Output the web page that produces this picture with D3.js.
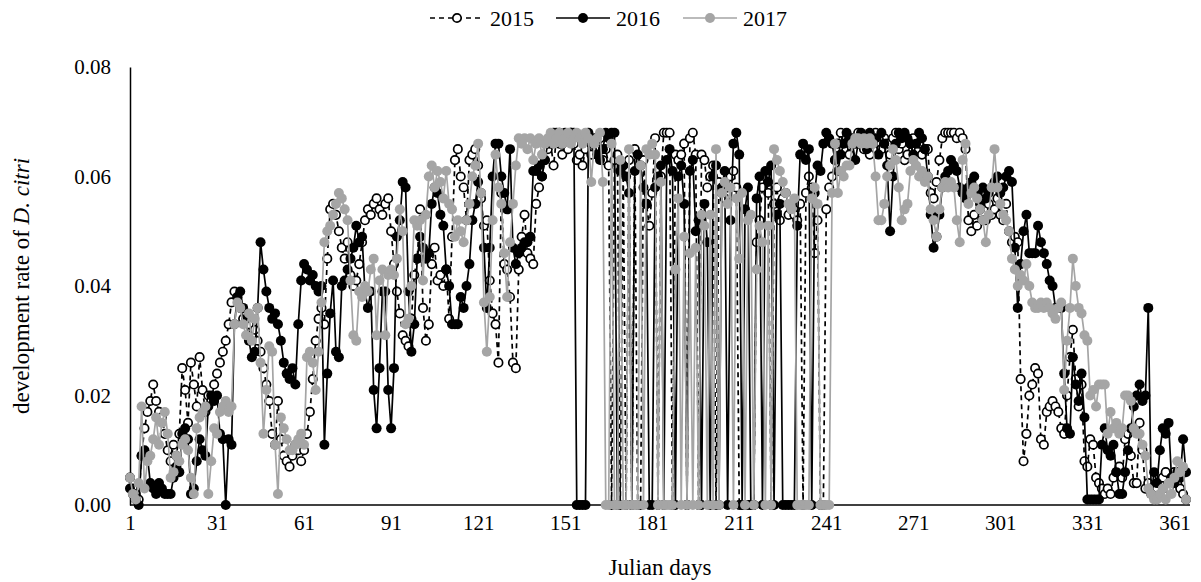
<!DOCTYPE html>
<html>
<head>
<meta charset="utf-8">
<title>Development rate of D. citri</title>
<script src="https://d3js.org/d3.v7.min.js"></script>
<style>
  body { margin: 0; background: #fff; }
  text { font-family: "Liberation Serif", "Times New Roman", serif; fill: #000; }
</style>
</head>
<body>
<div id="chart"></div>
<script>
// daily development rate, values in units of 0.001
const rate2015 = [
  5,3,2,1,9,14,17,19,22,19, 17,16,13,10,8,11,9,13,25,21, 15,26,22,18,27,21,17,20,19,22,
  24,26,28,30,33,37,39,38,36,34, 35,33,31,32,30,28,25,22,19,13, 11,19,12,9,8,7,9,11,10,8,
  10,13,17,23,30,34,36,33,45,54, 55,53,50,47,45,48,42,40,41,44, 48,52,54,53,55,56,54,53,55,56,
  50,44,39,35,31,30,29,34,42,45, 54,36,30,33,44,47,41,42,40,43, 34,49,63,65,60,58,52,63,64,65,
  62,56,51,52,41,35,33,26,57,44, 43,38,26,25,43,49,53,46,45,44, 55,58,60,63,65,66,62,67,66,64,
  67,65,68,66,63,64,62,65,67,64, 66,65,67,63,65,62,0,63,64,0, 62,0,63,0,65,0,0,63,55,51,
  57,67,0,60,68,68,68,0,64,63, 64,66,0,67,68,64,0,64,63,58, 60,62,0,59,57,56,58,60,61,58,
  0,0,0,0,0,0,48,52,58,60, 57,0,55,58,52,56,57,53,54,53, 52,55,0,57,60,58,46,52,0,0,
  54,58,60,63,66,68,65,67,64,67, 66,68,67,65,66,64,67,68,66,65, 67,66,64,67,68,65,66,63,64,66,
  67,65,66,64,65,65,57,56,59,63, 67,68,68,68,68,67,68,67,65,52, 50,53,51,54,52,52,55,53,54,56,
  53,52,55,50,48,49,48,23,8,13, 20,22,25,24,12,11,17,18,19,18, 17,14,13,20,27,32,23,18,22,8,
  7,12,11,5,4,3,2,3,2,5, 6,7,5,12,13,9,4,4,15,10, 3,4,3,2,3,4,5,6,3,5,
  6,4,3,2,1
];
const rate2016 = [
  3,2,1,0,9,10,9,4,3,2, 4,3,2,2,2,5,7,6,13,14, 12,2,3,8,12,10,9,18,20,19,
  20,13,12,0,12,11,33,38,39,36, 34,30,27,28,36,48,43,39,36,34, 35,33,30,26,24,23,25,22,33,41,
  44,43,41,42,40,39,40,11,24,35, 41,28,27,40,41,43,45,47,51,48, 49,39,36,39,21,14,25,39,39,21,
  14,25,49,52,59,58,39,28,33,45, 49,47,45,46,55,58,57,53,51,43, 40,33,33,33,38,36,40,44,52,55,
  59,57,47,36,47,60,66,66,60,57, 54,65,47,44,46,47,48,48,49,61, 61,62,60,63,66,67,68,68,68,66,
  68,67,68,68,0,0,0,0,68,66, 67,64,63,65,68,67,68,68,0,61, 62,60,57,0,61,64,62,58,55,0,
  0,58,60,62,0,63,65,61,0,60, 62,55,0,61,63,50,52,0,55,48, 0,60,62,0,58,61,0,52,66,68,
  64,0,54,58,0,0,56,60,0,61, 59,62,0,53,55,0,0,0,0,0, 51,64,66,63,65,0,57,62,61,66,
  68,67,66,63,61,64,66,68,67,66, 63,66,68,67,65,68,66,67,64,68, 66,62,50,60,66,68,67,68,67,66,
  64,66,68,67,65,60,53,47,49,53, 58,60,61,63,62,61,58,57,56,58, 59,60,57,55,58,56,57,58,59,60,
  57,58,60,61,59,47,36,44,50,53, 46,46,46,51,48,46,44,41,40,36, 36,36,24,14,13,27,22,19,24,16,
  1,1,1,1,1,11,14,10,9,11, 6,2,2,6,10,14,18,20,22,19, 20,36,2,6,4,10,14,13,15,5,
  4,6,5,12,6
];
const rate2017 = [
  5,2,1,4,18,3,8,9,12,16, 11,15,17,13,5,6,9,8,11,12, 10,5,2,14,16,17,18,2,8,14,
  13,17,18,19,17,18,33,37,36,33, 31,35,30,34,36,26,13,21,29,28, 11,2,16,14,12,10,10,11,12,13,
  11,27,28,26,21,28,37,48,50,51, 53,55,57,56,54,52,41,31,30,39, 38,40,39,43,45,31,41,43,31,42,
  43,42,45,54,50,33,34,40,52,51, 52,41,53,60,62,58,61,59,56,61, 55,54,49,52,50,48,52,55,60,62,
  66,57,37,28,38,52,64,58,55,46, 38,48,55,62,67,66,67,65,67,63, 66,67,64,66,67,68,66,67,68,66,
  67,68,66,67,68,67,66,68,67,59, 66,67,68,59,0,0,66,0,0,63, 0,0,65,0,0,0,62,0,65,64,
  66,64,0,59,0,0,0,0,43,56, 0,49,0,46,0,47,0,53,51,0, 53,0,65,0,57,59,55,58,0,56,
  45,57,0,52,53,0,43,51,48,0, 51,0,65,63,61,59,57,55,54,56, 0,0,0,0,0,56,58,55,0,0,
  0,0,57,66,57,61,60,62,62,66, 67,67,66,67,66,67,66,60,52,52, 55,60,62,65,63,58,52,54,55,61,
  63,62,60,61,59,60,54,52,49,54, 58,59,58,59,58,52,48,63,66,55, 57,58,56,54,52,48,53,58,65,58,
  55,53,52,50,45,43,40,42,41,44, 40,37,36,36,37,36,37,36,35,34, 36,37,21,30,36,45,40,36,35,31,
  30,20,21,18,22,22,22,13,17,14, 15,13,14,20,20,19,14,13,13,11, 9,3,2,1,1,2,3,1,4,2,
  5,8,6,7,1
];
const years = ["2015", "2016", "2017"];
const xTicks = [1, 31, 61, 91, 121, 151, 181, 211, 241, 271, 301, 331, 361];
const yTicks = [0, 20, 40, 60, 80];

const W = 1201, H = 582;
const svg = d3.select("#chart").append("svg").attr("width", W).attr("height", H);

const x = d3.scaleLinear().domain([1, 365]).range([130, 1186]);
const y = d3.scaleLinear().domain([0, 80]).range([505, 67]);

const seriesStyle = {
  "2015": { data: rate2015, color: "#000", fill: "#fff", dash: "5,4", r: 4.2, sw: 1.7 },
  "2016": { data: rate2016, color: "#000", fill: "#000", dash: null, r: 5, sw: 0 },
  "2017": { data: rate2017, color: "#a5a5a5", fill: "#a5a5a5", dash: null, r: 5, sw: 0 }
};

// axes
const yAxis = svg.append("g").attr("transform", "translate(130,0)")
  .call(d3.axisLeft(y).tickValues(yTicks).tickSize(0).tickPadding(19)
    .tickFormat(d => (d / 1000).toFixed(2)));
const xAxis = svg.append("g").attr("transform", "translate(0,505)")
  .call(d3.axisBottom(x).tickValues(xTicks).tickSize(0).tickPadding(10));
[yAxis, xAxis].forEach(g => {
  g.selectAll("text").style("font-size", "21px").style("font-family", "Liberation Serif");
  g.select(".domain").attr("stroke", "#000").attr("stroke-width", 1.5);
});
xAxis.select(".domain").attr("d", "M130,0H1190");

const line = d3.line().x((d, i) => x(i + 1)).y(d => y(d));

years.forEach(yr => {
  const s = seriesStyle[yr];
  const g = svg.append("g");
  g.append("path").datum(s.data)
    .attr("d", line)
    .attr("fill", "none")
    .attr("stroke", s.color)
    .attr("stroke-width", 1.7)
    .attr("stroke-dasharray", s.dash);
  g.selectAll("circle").data(s.data).join("circle")
    .attr("cx", (d, i) => x(i + 1))
    .attr("cy", d => y(d))
    .attr("r", s.r)
    .attr("fill", s.fill)
    .attr("stroke", s.color)
    .attr("stroke-width", s.sw);
});

// axis titles
svg.append("text").attr("x", 660).attr("y", 575).attr("text-anchor", "middle")
  .style("font-size", "23px").text("Julian days");
const yt = svg.append("text").attr("transform", "translate(29,286) rotate(-90)")
  .attr("text-anchor", "middle").style("font-size", "23px");
yt.append("tspan").text("development rate of ");
yt.append("tspan").style("font-style", "italic").text("D. citri");

// legend
const legendX = [430, 556, 683];
years.forEach((yr, i) => {
  const s = seriesStyle[yr];
  const lg = svg.append("g").attr("transform", `translate(${legendX[i]},18)`);
  lg.append("line").attr("x1", 0).attr("x2", 54).attr("y1", 0).attr("y2", 0)
    .attr("stroke", s.color).attr("stroke-width", 1.7).attr("stroke-dasharray", s.dash);
  lg.append("circle").attr("cx", 27).attr("cy", 0).attr("r", s.r)
    .attr("fill", s.fill).attr("stroke", s.color).attr("stroke-width", s.sw);
  lg.append("text").attr("x", 60).attr("y", 8).style("font-size", "22px").text(yr);
});
</script>
</body>
</html>
